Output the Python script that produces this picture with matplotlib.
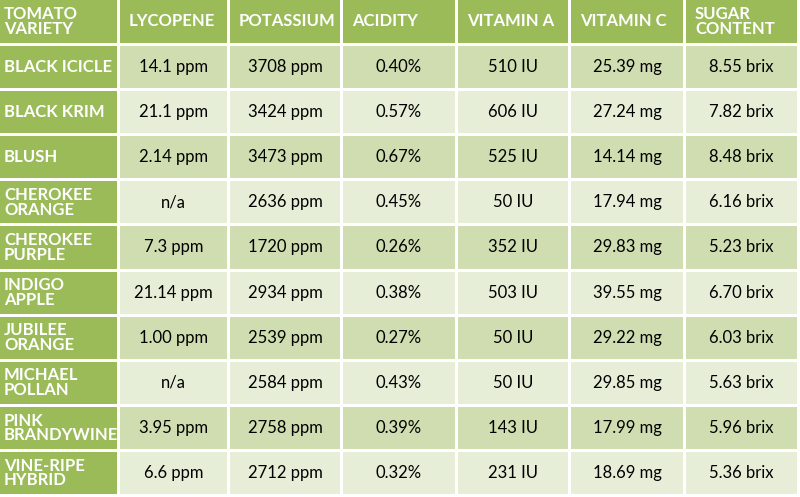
import matplotlib.pyplot as plt
from matplotlib.patches import Rectangle

headers = ["TOMATO\nVARIETY", "LYCOPENE", "POTASSIUM", "ACIDITY", "VITAMIN A", "VITAMIN C", "SUGAR\nCONTENT"]
varieties = ["BLACK ICICLE", "BLACK KRIM", "BLUSH", "CHEROKEE\nORANGE", "CHEROKEE\nPURPLE",
             "INDIGO\nAPPLE", "JUBILEE\nORANGE", "MICHAEL\nPOLLAN", "PINK\nBRANDYWINE", "VINE-RIPE\nHYBRID"]
lycopene = ["14.1 ppm", "21.1 ppm", "2.14 ppm", "n/a", "7.3 ppm", "21.14 ppm", "1.00 ppm", "n/a", "3.95 ppm", "6.6 ppm"]
potassium = ["3708 ppm", "3424 ppm", "3473 ppm", "2636 ppm", "1720 ppm", "2934 ppm", "2539 ppm", "2584 ppm", "2758 ppm", "2712 ppm"]
acidity = ["0.40%", "0.57%", "0.67%", "0.45%", "0.26%", "0.38%", "0.27%", "0.43%", "0.39%", "0.32%"]
vitamin_a = ["510 IU", "606 IU", "525 IU", "50 IU", "352 IU", "503 IU", "50 IU", "50 IU", "143 IU", "231 IU"]
vitamin_c = ["25.39 mg", "27.24 mg", "14.14 mg", "17.94 mg", "29.83 mg", "39.55 mg", "29.22 mg", "29.85 mg", "17.99 mg", "18.69 mg"]
sugar = ["8.55 brix", "7.82 brix", "8.48 brix", "6.16 brix", "5.23 brix", "6.70 brix", "6.03 brix", "5.63 brix", "5.96 brix", "5.36 brix"]

columns = [lycopene, potassium, acidity, vitamin_a, vitamin_c, sugar]

W, H = 800, 497
fig = plt.figure(figsize=(8, 4.97), dpi=100)
ax = fig.add_axes([0, 0, 1, 1])
ax.set_xlim(0, W)
ax.set_ylim(H, 0)
ax.axis("off")

col_x = [0, 120, 230, 343, 458, 571, 686, 800]
gap = 3
head_h = 46
row_h = (H - head_h) / len(varieties)
green = "#9bbb59"
dark = "#cfddb1"
light = "#e7eed8"
font = "Lato"

def cell(x0, x1, y0, y1, color, text, tcolor, bold, ha="center", pad=4):
    ax.add_patch(Rectangle((x0, y0), x1 - x0 - gap, y1 - y0 - gap, color=color, lw=0))
    tx = x0 + pad if ha == "left" else (x0 + x1 - gap) / 2
    ax.text(tx, (y0 + y1 - gap) / 2, text, ha=ha, va="center", color=tcolor,
            fontsize=12, fontweight="bold" if bold else "normal", family=font, linespacing=0.9)

for j, h in enumerate(headers):
    cell(col_x[j], col_x[j + 1], 0, head_h, green, h, "white", True, ha="left",
         pad=4 if j == 0 else 9)

for i, v in enumerate(varieties):
    y0 = head_h + i * row_h
    y1 = y0 + row_h
    cell(col_x[0], col_x[1], y0, y1, green, v, "white", True, ha="left")
    bg = dark if i % 2 == 0 else light
    for j, col in enumerate(columns):
        cell(col_x[j + 1], col_x[j + 2], y0, y1, bg, col[i], "black", False)

fig.savefig("out.png", dpi=100, facecolor="white")
